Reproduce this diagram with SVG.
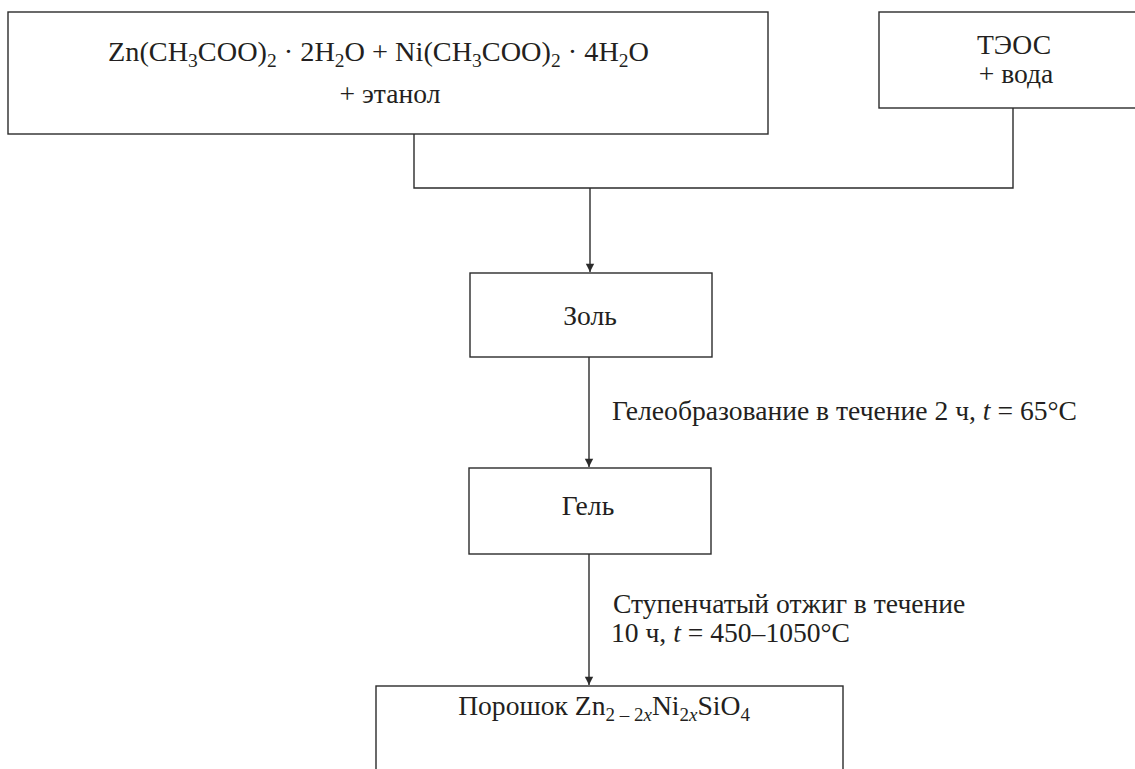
<svg xmlns="http://www.w3.org/2000/svg" width="1135" height="769" viewBox="0 0 1135 769">
<defs>
<style>
.box{fill:#fff;stroke:#2b2b2b;stroke-width:1.4}
.ln{fill:none;stroke:#2b2b2b;stroke-width:1.4}
text{font-family:"Liberation Serif","Times New Roman",serif;font-size:27.6px;fill:#231f20}
.c{text-anchor:middle}
.s{font-size:19px}
</style>
<marker id="ar" viewBox="0 0 10 12" refX="10" refY="6" markerWidth="12" markerHeight="10" markerUnits="userSpaceOnUse" orient="auto">
<path d="M0,1 L10,6 L0,11 Z" fill="#2b2b2b"/>
</marker>
</defs>
<rect width="1135" height="769" fill="#fff"/>
<g id="connectors">
<polyline class="ln" points="414,134 414,188 1013,188 1013,108"/>
<line class="ln" x1="590" y1="188" x2="590" y2="272" marker-end="url(#ar)"/>
<line class="ln" x1="589" y1="357" x2="589" y2="467" marker-end="url(#ar)"/>
<line class="ln" x1="589" y1="554" x2="589" y2="685" marker-end="url(#ar)"/>
<text x="612" y="420">Гелеобразование в течение 2 ч, <tspan font-style="italic">t</tspan> = 65°C</text>
<text x="613" y="613">Ступенчатый отжиг в течение</text>
<text x="611" y="642">10 ч, <tspan font-style="italic">t</tspan> = 450–1050°C</text>
</g>
<g id="n1">
<rect class="box" x="8" y="12" width="760" height="122"/>
<text x="108" y="61" font-size="29" textLength="541" lengthAdjust="spacingAndGlyphs">Zn(CH<tspan class="s" dy="6">3</tspan><tspan dy="-6">COO)</tspan><tspan class="s" dy="6">2</tspan><tspan dy="-6"> · 2H</tspan><tspan class="s" dy="6">2</tspan><tspan dy="-6">O + Ni(CH</tspan><tspan class="s" dy="6">3</tspan><tspan dy="-6">COO)</tspan><tspan class="s" dy="6">2</tspan><tspan dy="-6"> · 4H</tspan><tspan class="s" dy="6">2</tspan><tspan dy="-6">O</tspan></text>
<text class="c" x="390" y="103">+ этанол</text>
</g>
<g id="n2">
<rect class="box" x="879" y="12" width="270" height="96"/>
<text class="c" x="1014" y="54">ТЭОС</text>
<text class="c" x="1016" y="83">+ вода</text>
</g>
<g id="n3">
<rect class="box" x="470" y="273" width="242" height="84"/>
<text class="c" x="590" y="325">Золь</text>
</g>
<g id="n4">
<rect class="box" x="469" y="468" width="242" height="86"/>
<text class="c" x="588" y="515">Гель</text>
</g>
<g id="n5">
<rect class="box" x="376" y="686" width="467" height="100"/>
<text class="c" x="604" y="715">Порошок Zn<tspan class="s" dy="6">2 – 2<tspan font-style="italic">x</tspan></tspan><tspan dy="-6">Ni</tspan><tspan class="s" dy="6">2<tspan font-style="italic">x</tspan></tspan><tspan dy="-6">SiO</tspan><tspan class="s" dy="6">4</tspan></text>
</g>
</svg>
